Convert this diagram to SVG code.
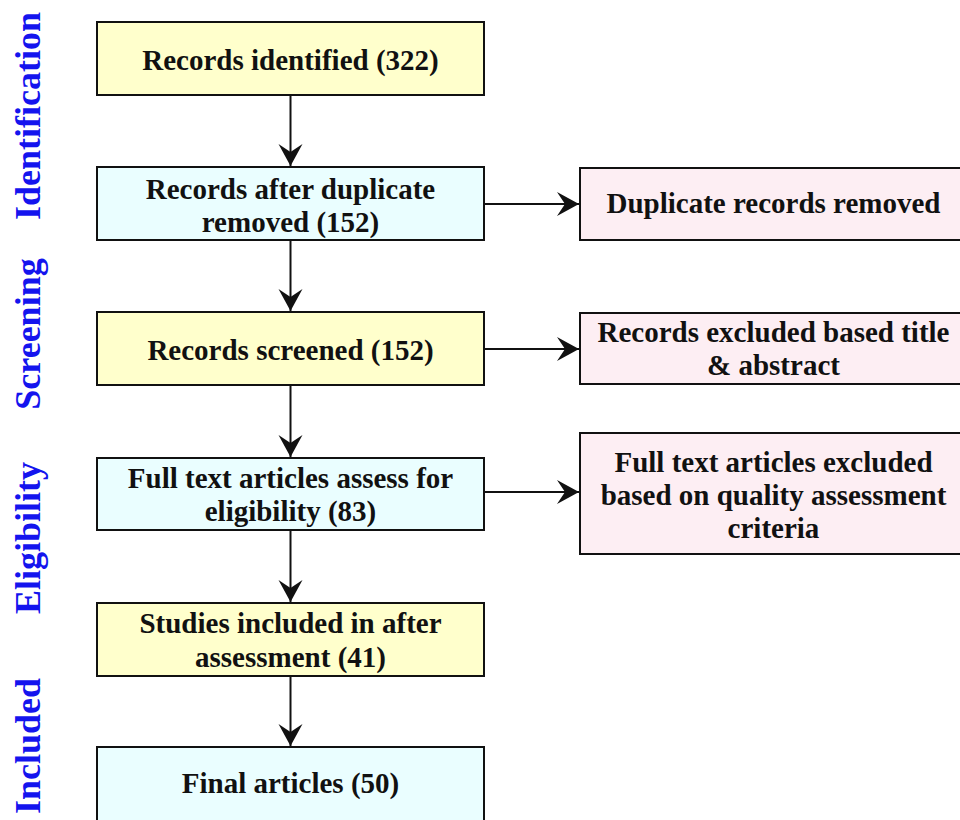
<svg xmlns="http://www.w3.org/2000/svg" width="960" height="820" viewBox="0 0 960 820">
<style>
.box{stroke:#111;stroke-width:2}
.y{fill:#ffffcc}
.c{fill:#eafeff}
.p{fill:#fdeef3}
.t{font-family:"Liberation Serif","Times New Roman",serif;font-weight:bold;font-size:29px;fill:#111;text-anchor:middle}
.s{font-family:"Liberation Serif","Times New Roman",serif;font-weight:bold;font-size:36px;fill:#1414ee;text-anchor:middle}
.ln{stroke:#111;stroke-width:2;fill:none}
</style>
<defs>
<marker id="ah" markerUnits="userSpaceOnUse" markerWidth="26" markerHeight="26" viewBox="-24 -13 26 26" refX="0" refY="0" orient="auto">
<path d="M0,0 L-22,-12 L-14,0 L-22,12 Z" fill="#111"/>
</marker>
</defs>
<rect width="960" height="820" fill="#fff"/>
<g id="stages">
<text class="s" transform="translate(40,116) rotate(-90)">Identification</text>
<text class="s" transform="translate(40,334) rotate(-90)">Screening</text>
<text class="s" transform="translate(40,538) rotate(-90)">Eligibility</text>
<text class="s" transform="translate(40,746) rotate(-90)">Included</text>
</g>
<g id="connectors">
<line class="ln" x1="290.5" y1="95" x2="290.5" y2="166" marker-end="url(#ah)"/>
<line class="ln" x1="290.5" y1="240" x2="290.5" y2="311" marker-end="url(#ah)"/>
<line class="ln" x1="290.5" y1="385" x2="290.5" y2="457" marker-end="url(#ah)"/>
<line class="ln" x1="290.5" y1="530" x2="290.5" y2="602" marker-end="url(#ah)"/>
<line class="ln" x1="290.5" y1="676" x2="290.5" y2="746" marker-end="url(#ah)"/>
<line class="ln" x1="484" y1="204" x2="579" y2="204" marker-end="url(#ah)"/>
<line class="ln" x1="484" y1="349" x2="579" y2="349" marker-end="url(#ah)"/>
<line class="ln" x1="484" y1="492" x2="579" y2="492" marker-end="url(#ah)"/>
</g>
<g id="n1"><rect class="box y" x="97" y="22" width="387" height="73"/><text class="t" x="290.5" y="70">Records identified (322)</text></g>
<g id="n2"><rect class="box c" x="97" y="167" width="387" height="73"/><text class="t" x="290.5" y="199">Records after duplicate</text><text class="t" x="290.5" y="232">removed (152)</text></g>
<g id="n3"><rect class="box y" x="97" y="312" width="387" height="73"/><text class="t" x="290.5" y="360">Records screened (152)</text></g>
<g id="n4"><rect class="box c" x="97" y="458" width="387" height="72"/><text class="t" x="290.5" y="488">Full text articles assess for</text><text class="t" x="290.5" y="521">eligibility (83)</text></g>
<g id="n5"><rect class="box y" x="97" y="603" width="387" height="73"/><text class="t" x="290.5" y="633">Studies included in after</text><text class="t" x="290.5" y="667">assessment (41)</text></g>
<g id="n6"><rect class="box c" x="97" y="747" width="387" height="80"/><text class="t" x="290.5" y="793">Final articles (50)</text></g>
<g id="r1"><rect class="box p" x="580" y="168" width="387" height="72"/><text class="t" x="773.5" y="213">Duplicate records removed</text></g>
<g id="r2"><rect class="box p" x="580" y="313" width="387" height="71"/><text class="t" x="773.5" y="342">Records excluded based title</text><text class="t" x="773.5" y="375">&amp; abstract</text></g>
<g id="r3"><rect class="box p" x="580" y="433" width="387" height="121"/><text class="t" x="773.5" y="472">Full text articles excluded</text><text class="t" x="773.5" y="505">based on quality assessment</text><text class="t" x="773.5" y="538">criteria</text></g>
</svg>
